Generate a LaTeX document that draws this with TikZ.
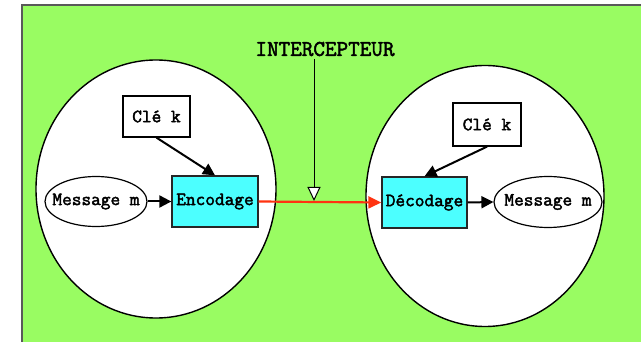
\documentclass[tikz,border=0pt]{standalone}
\usepackage{fontspec}
\newfontfamily\codefont{Latin Modern Mono}[FakeBold=2.2]
\usetikzlibrary{shapes.geometric,arrows.meta}
\definecolor{bggreen}{HTML}{99FC62}
\definecolor{boxcyan}{HTML}{4CFFFF}
\definecolor{linkred}{HTML}{FF3311}
\tikzset{
  labelfont/.style={font=\codefont\fontsize{18.8}{20}\selectfont},
  zone/.style={draw=black,line width=1.4pt,fill=white,ellipse,inner sep=0pt},
  msg/.style={draw=black,line width=1.2pt,fill=white,ellipse,inner sep=0pt,
    label={[labelfont]center:#1}},
  keybox/.style={draw=black,line width=1.3pt,fill=white,rectangle,inner sep=0pt,labelfont},
  codebox/.style={draw=black!85,line width=1.3pt,fill=boxcyan,rectangle,inner sep=0pt,labelfont},
  flow/.style={draw=black,line width=2pt,-{Triangle[length=12pt,width=12pt]}},
}
\begin{document}
\begin{tikzpicture}[x=1pt,y=-1pt]
\useasboundingbox (0,0) rectangle (641,342);
\clip (0,0) rectangle (641,342);
% background panel
\draw[draw=black!65,line width=1.2pt,fill=bggreen] (22,5) rectangle (660,360);

% sender and receiver zones
\node[zone,minimum width=240pt,minimum height=258pt] (left) at (156,189) {};
\node[zone,minimum width=238pt,minimum height=261pt] (right) at (485,196) {};

% sender side
\node[keybox,minimum width=67pt,minimum height=41pt] (keyA) at (156.5,116.5) {Clé k};
\node[codebox,minimum width=86pt,minimum height=51pt] (enc) at (215,201.5) {Encodage};
\node[msg=Message m,minimum width=102pt,minimum height=50pt] (msgA) at (96,201.5) {};

% receiver side
\node[keybox,minimum width=68pt,minimum height=43pt] (keyB) at (487,124.5) {Clé k};
\node[codebox,minimum width=85pt,minimum height=51pt] (dec) at (424.5,202.5) {Décodage};
\node[msg=Message m,minimum width=108pt,minimum height=51pt] (msgB) at (548,202) {};

% eavesdropper
\node[font=\codefont\fontsize{22.5}{24}\selectfont] (spy) at (325,49) {INTERCEPTEUR};
\coordinate (spytop) at (314,59);
\coordinate (tap) at (314,201);

% connectors
\draw[flow] (msgA.east) -- (enc.west);
\draw[flow] (keyA.south) -- (enc.north);
\draw[flow] (keyB.south) -- (dec.north);
\draw[flow] (dec.east) -- (msgB.west);
\draw[draw=linkred,line width=2.2pt,-{Triangle[length=13pt,width=12pt]}] (enc.east) -- (dec.west);
\draw[black,line width=1pt,-{Triangle[open,fill=white,length=14pt,width=13pt]}] (spytop) -- (tap);
\end{tikzpicture}
\end{document}
